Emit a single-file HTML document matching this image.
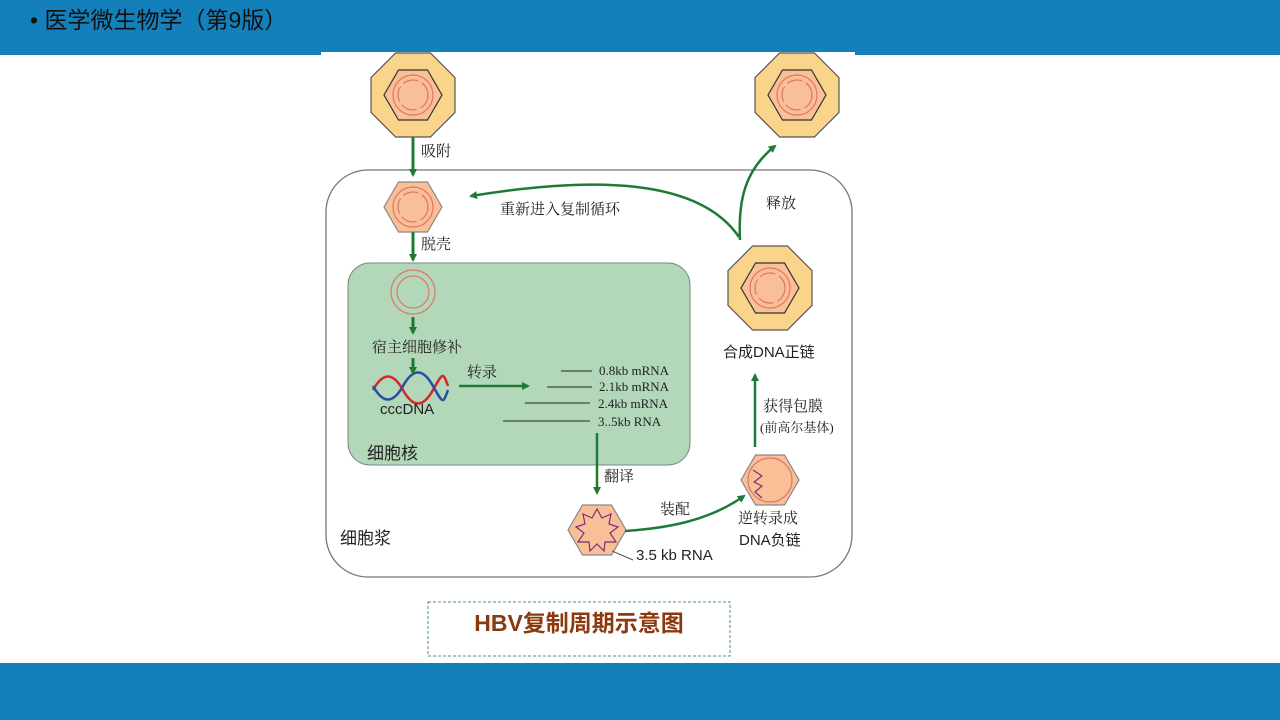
<!DOCTYPE html>
<html><head><meta charset="utf-8"><style>
body{margin:0;width:1280px;height:720px;overflow:hidden;background:#fff;font-family:"Liberation Sans","Noto Sans CJK SC",sans-serif}
svg{position:absolute;left:0;top:0}
</style></head><body>
<svg width="1280" height="720" viewBox="0 0 1280 720" font-family="'Liberation Serif','Noto Serif CJK SC',serif">
<defs>
<marker id="ah" markerWidth="8" markerHeight="8" refX="6" refY="4" orient="auto" markerUnits="userSpaceOnUse"><path d="M0,0 L8,4 L0,8 Z" fill="#1f7a35"/></marker>
</defs>
<rect x="0" y="0" width="1280" height="55" fill="#137fbb"/>
<rect x="0" y="663" width="1280" height="57" fill="#137fbb"/>
<rect x="321" y="52" width="534" height="560" fill="#fff"/>
<text x="30" y="28" font-family="'Liberation Sans','Noto Sans CJK SC',sans-serif" font-size="23" fill="#111">•  医学微生物学（第9版）</text>

<rect x="326" y="170" width="526" height="407" rx="42" fill="#fff" stroke="#777" stroke-width="1.3"/>
<rect x="348" y="263" width="342" height="202" rx="22" fill="#b3d8b9" stroke="#7a8a7c" stroke-width="1"/>

<g transform="translate(413,95)">
<polygon points="42,17.4 17.4,42 -17.4,42 -42,17.4 -42,-17.4 -17.4,-42 17.4,-42 42,-17.4" fill="#fbd48c" stroke="#555" stroke-width="1.2"/>
<polygon points="-29,0 -14.5,-25 14.5,-25 29,0 14.5,25 -14.5,25" fill="#f9bf97" stroke="#333" stroke-width="1.2"/>
<circle r="20" fill="none" stroke="#e0776a" stroke-width="1.2"/>
<circle r="15" fill="none" stroke="#e0776a" stroke-width="1.2" stroke-dasharray="16 4"/>
</g>
<g transform="translate(797,95)">
<polygon points="42,17.4 17.4,42 -17.4,42 -42,17.4 -42,-17.4 -17.4,-42 17.4,-42 42,-17.4" fill="#fbd48c" stroke="#555" stroke-width="1.2"/>
<polygon points="-29,0 -14.5,-25 14.5,-25 29,0 14.5,25 -14.5,25" fill="#f9bf97" stroke="#333" stroke-width="1.2"/>
<circle r="20" fill="none" stroke="#e0776a" stroke-width="1.2"/>
<circle r="15" fill="none" stroke="#e0776a" stroke-width="1.2" stroke-dasharray="16 4"/>
</g>
<g transform="translate(770,288)">
<polygon points="42,17.4 17.4,42 -17.4,42 -42,17.4 -42,-17.4 -17.4,-42 17.4,-42 42,-17.4" fill="#fbd48c" stroke="#555" stroke-width="1.2"/>
<polygon points="-29,0 -14.5,-25 14.5,-25 29,0 14.5,25 -14.5,25" fill="#f9bf97" stroke="#333" stroke-width="1.2"/>
<circle r="20" fill="none" stroke="#e0776a" stroke-width="1.2"/>
<circle r="15" fill="none" stroke="#e0776a" stroke-width="1.2" stroke-dasharray="16 4"/>
</g>
<g transform="translate(413,207)">
<polygon points="-29,0 -14.5,-25 14.5,-25 29,0 14.5,25 -14.5,25" fill="#f9bf97" stroke="#888" stroke-width="1.2"/>
<circle r="20" fill="none" stroke="#e0776a" stroke-width="1.2"/>
<circle r="15" fill="none" stroke="#e0776a" stroke-width="1.2" stroke-dasharray="16 4"/>
</g>
<g transform="translate(413,292)">
<circle r="22" fill="none" stroke="#e0776a" stroke-width="1.2"/>
<circle r="16" fill="none" stroke="#e0776a" stroke-width="1.2"/>
</g>
<g transform="translate(770,480)">
<polygon points="-29,0 -14.5,-25 14.5,-25 29,0 14.5,25 -14.5,25" fill="#f9bf97" stroke="#888" stroke-width="1.2"/>
<circle r="22" fill="none" stroke="#e0776a" stroke-width="1.2"/>
<polyline points="-17,-10 -8,-4 -16,2 -8,6 -15,12 -8,18" fill="none" stroke="#7a2f7a" stroke-width="1.2"/>
</g>
<g transform="translate(597,530)">
<polygon points="-29,0 -14.5,-25 14.5,-25 29,0 14.5,25 -14.5,25" fill="#f9bf97" stroke="#888" stroke-width="1.2"/>
<polygon points="0,-21 5,-12 14,-16 12,-6 21,-3 13,3 19,12 8,12 7,21 0,14 -7,21 -8,12 -19,12 -13,3 -21,-3 -12,-6 -14,-16 -5,-12" fill="none" stroke="#7a2f7a" stroke-width="1.2"/>
<line x1="15" y1="21" x2="36" y2="30" stroke="#555" stroke-width="1"/>
</g>

<path d="M373,390 C383,372 393,372 403,390 S423,408 433,390 S443,372 448,386" fill="none" stroke="#d8262b" stroke-width="2.5"/>
<path d="M373,386 C383,404 393,404 403,386 S423,368 433,386 S443,404 448,390" fill="none" stroke="#2a4fa0" stroke-width="2.5"/>

<g stroke="#1f7a35" stroke-width="3" fill="none" marker-end="url(#ah)">
<line x1="413" y1="137" x2="413" y2="175"/>
<line x1="413" y1="232" x2="413" y2="260"/>
<line x1="413" y1="317" x2="413" y2="333"/>
<line x1="413" y1="358" x2="413" y2="373"/>
<line x1="459" y1="386" x2="528" y2="386" stroke-width="2.5"/>
<line x1="597" y1="433" x2="597" y2="493" stroke-width="2.5"/>
<line x1="755" y1="447" x2="755" y2="375" stroke-width="2.5"/>
<path d="M625,531 C670,528 710,520 744,496" stroke-width="2.5"/>
<path d="M739,237 C700,180 600,175 471,196" stroke-width="2.5"/>
<path d="M740,240 C738,200 745,170 775,146" stroke-width="2.5"/>
</g>

<g stroke="#222" stroke-width="1">
<line x1="561" y1="371" x2="592" y2="371"/>
<line x1="547" y1="387" x2="592" y2="387"/>
<line x1="525" y1="403" x2="590" y2="403"/>
<line x1="503" y1="421" x2="590" y2="421"/>
</g>
<g font-size="13" fill="#222">
<text x="599" y="375">0.8kb mRNA</text>
<text x="599" y="391">2.1kb mRNA</text>
<text x="598" y="408">2.4kb mRNA</text>
<text x="598" y="426">3..5kb RNA</text>
</g>

<g font-size="15" fill="#222">
<text x="421" y="156">吸附</text>
<text x="421" y="249">脱壳</text>
<text x="500" y="214">重新进入复制循环</text>
<text x="766" y="208">释放</text>
<text x="372" y="352">宿主细胞修补</text>
<text x="467" y="377">转录</text>
<text x="604" y="481">翻译</text>
<text x="660" y="514">装配</text>
<text x="763" y="411">获得包膜</text>
<text x="760" y="432" font-size="13">(前高尔基体)</text>
<text x="738" y="523">逆转录成</text>
</g>
<g font-family="'Liberation Sans','Noto Sans CJK SC',sans-serif" fill="#222">
<text x="380" y="414" font-size="15">cccDNA</text>
<text x="367" y="459" font-size="17">细胞核</text>
<text x="340" y="544" font-size="17">细胞浆</text>
<text x="723" y="357" font-size="15">合成DNA正链</text>
<text x="739" y="545" font-size="15">DNA负链</text>
<text x="636" y="560" font-size="15">3.5 kb RNA</text>
</g>

<rect x="428" y="602" width="302" height="54" fill="#fff" stroke="#4d8a9e" stroke-width="1" stroke-dasharray="3 2"/>
<text x="579" y="631" text-anchor="middle" font-family="'Liberation Sans','Noto Sans CJK SC',sans-serif" font-size="23" font-weight="bold" fill="#8b3a0f">HBV复制周期示意图</text>
</svg>
</body></html>
